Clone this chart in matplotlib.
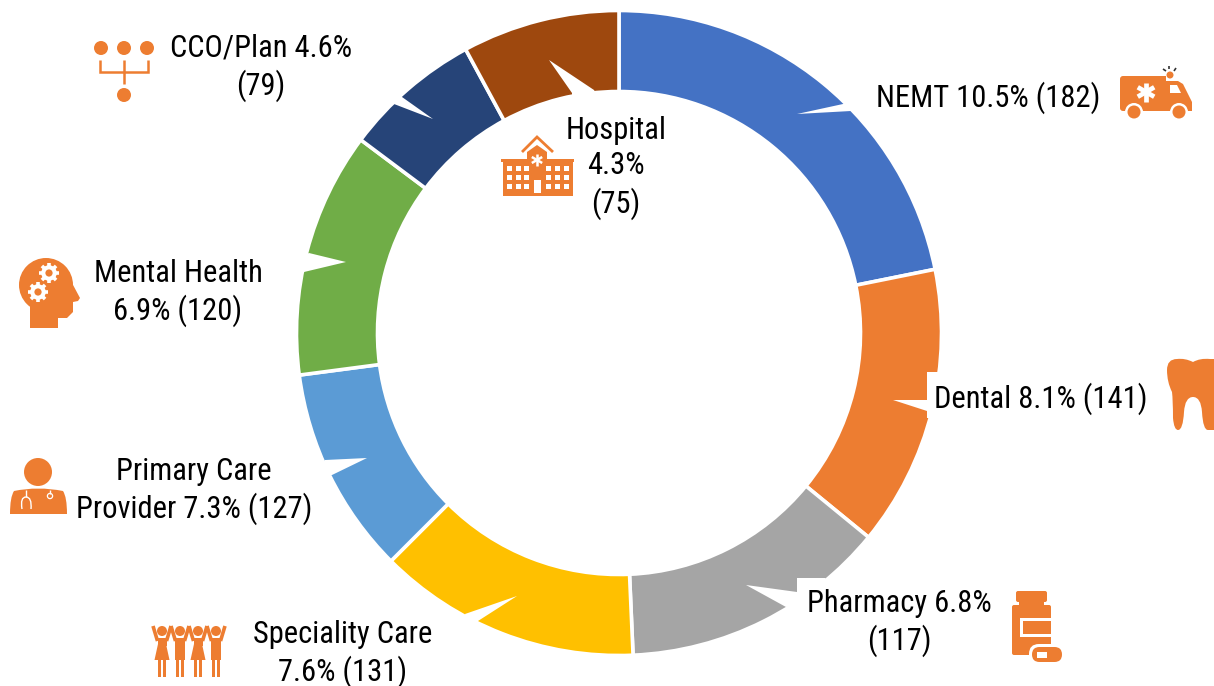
import numpy as np
import matplotlib
matplotlib.use("Agg")
import matplotlib.pyplot as plt
from matplotlib.patches import Circle, Polygon, Rectangle, FancyBboxPatch, PathPatch
from matplotlib.path import Path
from matplotlib import font_manager as fm

# share of the ring taken by each slice (degrees)
categories = ["NEMT", "Dental", "Pharmacy", "Speciality Care", "Primary Care Provider",
              "Mental Health", "CCO/Plan", "Hospital"]
slice_deg = [78.6, 50.7, 48.2, 47.5, 37.5, 44.3, 24.8, 28.4]
colors = ["#4472C4", "#ED7D31", "#A5A5A5", "#FFC000", "#5B9BD5", "#70AD47", "#264478", "#9E480E"]
labels = ["NEMT 10.5% (182)", "Dental 8.1% (141)", "Pharmacy 6.8%\n(117)", "Speciality Care\n7.6% (131)",
          "Primary Care\nProvider 7.3% (127)", "Mental Health\n6.9% (120)", "CCO/Plan 4.6%\n(79)",
          "Hospital\n4.3%\n(75)"]
label_x = [988, 1041, 899, 343, 194, 178, 261, 616]
label_y = [98, 399, 623, 654, 491, 293, 68, 168]

# white callout pointers cut into the ring
notches = [
    [(843, 104), (797, 114), (851, 111), (875, 95)],
    [(927, 372), (927, 400), (893, 400), (927, 411), (927, 418), (950, 418), (950, 372)],
    [(746, 585), (797, 592), (797, 578), (825, 578), (850, 600), (786, 607)],
    [(465, 614), (517, 596), (478, 621), (468, 632)],
    [(325, 460), (367, 458), (332, 475), (315, 475)],
    [(309, 253), (346, 262), (304, 272), (290, 262)],
    [(402, 97), (433, 119), (394, 104), (385, 90)],
    [(549, 60), (594, 90), (600, 100), (572, 100), (572, 93)],
]

ORANGE = "#ED7D31"
names = {f.name for f in fm.fontManager.ttflist}
FONT = "Roboto"
for cand in ["Liberation Sans Narrow", "Roboto Condensed", "Open Sans Condensed", "Roboto"]:
    if cand in names:
        FONT = cand
        break

fig = plt.figure(figsize=(12.14, 6.86), dpi=100)
ax = fig.add_axes([0, 0, 1, 1])

ax.pie(slice_deg, colors=colors, center=(619, 333), radius=322.5, startangle=-90, counterclock=True,
       wedgeprops=dict(width=81, edgecolor="white", linewidth=2.6))
ax.set_xlim(0, 1214)
ax.set_ylim(686, 0)
ax.set_aspect("equal")
ax.axis("off")

for n in notches:
    ax.add_patch(Polygon(n, closed=True, fc="white", ec="none", zorder=3))

for lab, x, y in zip(labels, label_x, label_y):
    ax.text(x, y, lab, ha="center", va="center", fontsize=22, family=FONT, color="black",
            linespacing=1.27, zorder=5)


def circ(x, y, r, c=ORANGE, z=6):
    ax.add_patch(Circle((x, y), r, fc=c, ec="none", zorder=z))


def rect(x0, y0, x1, y1, c=ORANGE, z=6):
    ax.add_patch(Rectangle((x0, y0), x1 - x0, y1 - y0, fc=c, ec="none", zorder=z))


def poly(pts, c=ORANGE, z=6):
    ax.add_patch(Polygon(pts, closed=True, fc=c, ec="none", zorder=z))


def line(xs, ys, lw=1.8, c=ORANGE, z=6, cap="butt"):
    ax.plot(xs, ys, color=c, lw=lw, zorder=z, solid_capstyle=cap, solid_joinstyle="miter")


def star(x, y, r, lw, c="white", z=7):
    for a in np.deg2rad([90, 30, 150]):
        line([x - r * np.cos(a), x + r * np.cos(a)], [y - r * np.sin(a), y + r * np.sin(a)], lw, c, z)


def gear(x, y, r):
    for a in np.deg2rad(np.arange(0, 360, 45)):
        line([x, x + r * np.cos(a)], [y, y + r * np.sin(a)], 2.6, "white", 7)
    circ(x, y, r * 0.78, "white", 7)
    circ(x, y, r * 0.36, ORANGE, 8)


# CCO
for x in (101, 124, 147):
    circ(x, 48, 7)
circ(124, 95, 7)
line([100, 100, 148, 148], [60, 72, 72, 60])
line([124, 124], [60, 84])

# head with gears
circ(46, 285, 27)
poly([(30, 300), (30, 328), (58, 328), (58, 318), (67, 318), (73, 312), (73, 302), (78, 301), (80, 298),
      (72, 283), (40, 280)])
gear(49, 273, 10)
gear(38, 292, 10)

# doctor
circ(38, 472, 14)
ax.add_patch(PathPatch(Path([(10, 514), (10, 497), (14, 491), (38, 486), (63, 491), (67, 497), (67, 514), (10, 514)],
                            [Path.MOVETO, Path.CURVE3, Path.CURVE3, Path.CURVE3, Path.CURVE3, Path.CURVE3,
                             Path.LINETO, Path.CLOSEPOLY]), fc=ORANGE, ec="none", zorder=6))
line([26, 26], [490, 497], 1.0, "white", 7)
ax.add_patch(PathPatch(Path([(22, 509), (20, 497), (26, 497), (32, 497), (31, 509)],
                            [Path.MOVETO, Path.CURVE3, Path.CURVE3, Path.CURVE3, Path.CURVE3]),
                       fc="none", ec="white", lw=1.0, zorder=7))
line([50, 50], [490, 494], 1.0, "white", 7)
ax.add_patch(Circle((50, 496), 2.6, fc="none", ec="white", lw=0.9, zorder=7))

# people
for i, x in enumerate((162, 180, 198, 216)):
    circ(x, 631, 5)
    line([x - 4.5, x - 9], [641, 626], 2.6)
    line([x + 4.5, x + 9], [641, 626], 2.6)
    if i % 2 == 0:
        rect(x - 4.5, 638, x + 4.5, 646)
        poly([(x - 4, 644), (x + 4, 644), (x + 7.5, 660), (x - 7.5, 660)])
    else:
        rect(x - 5, 638, x + 5, 660)
    rect(x - 4.3, 659, x - 0.8, 677)
    rect(x + 0.8, 659, x + 4.3, 677)

# ambulance
ax.add_patch(FancyBboxPatch((1120, 76), 30, 35, boxstyle="round,pad=0,rounding_size=3", fc=ORANGE, ec="none", zorder=6))
poly([(1130, 76), (1166, 76), (1166, 81), (1178, 81), (1183, 84), (1190, 98), (1192, 102), (1192, 111), (1130, 111)])
poly([(1170, 85), (1177, 85), (1181, 93), (1170, 93)], "white", 7)
star(1146, 92, 9.5, 3.4)
circ(1170, 75, 3.5)
for x in (1134, 1179):
    circ(x, 112, 9, "white", 7)
    circ(x, 112, 6.5, ORANGE, 8)
for x0, y0, x1, y1 in [(1163, 69, 1166, 71), (1169, 66, 1169, 69), (1176, 68, 1174, 71)]:
    line([x0, x1], [y0, y1], 1.2, "#333333", 7)

# tooth (runs off the right edge)
tooth_pts = [(1193, 362), (1185, 358), (1177, 359), (1167, 359), (1167, 370), (1167, 382), (1172, 392),
             (1173, 400), (1173, 418), (1174, 430), (1178, 430), (1183, 430), (1184, 412), (1185, 397),
             (1193, 397), (1201, 397), (1202, 412), (1203, 430), (1208, 430), (1214, 430), (1214, 359),
             (1210, 359), (1200, 358), (1193, 362), (1193, 362)]
tooth_codes = [Path.MOVETO] + [Path.CURVE3] * 18 + [Path.LINETO, Path.LINETO, Path.LINETO,
                                                    Path.CURVE3, Path.CURVE3, Path.CLOSEPOLY]
ax.add_patch(PathPatch(Path(tooth_pts, tooth_codes), fc=ORANGE, ec="none", zorder=6))

# pill bottle
ax.add_patch(FancyBboxPatch((1016, 591), 31, 11, boxstyle="round,pad=0,rounding_size=2", fc=ORANGE, ec="none", zorder=6))
rect(1019, 600, 1044, 606)
ax.add_patch(FancyBboxPatch((1012, 605), 39, 50, boxstyle="round,pad=0,rounding_size=2", fc=ORANGE, ec="none", zorder=6))
rect(1020, 618, 1051, 637, "white", 7)
rect(1023, 621, 1051, 634, ORANGE, 8)
ax.add_patch(FancyBboxPatch((1029, 644), 36, 21, boxstyle="round,pad=0,rounding_size=10", fc="white", ec="none", zorder=7))
ax.add_patch(FancyBboxPatch((1032, 647), 30, 15, boxstyle="round,pad=0,rounding_size=7.5", fc=ORANGE, ec="none", zorder=8))
rect(1037, 652, 1047, 658, "white", 9)

# hospital
rect(503, 161, 573, 196, ORANGE, 6)
rect(501, 159, 574, 162, ORANGE, 6)
poly([(527, 159), (527, 152), (537, 145), (547, 152), (547, 159)])
line([522, 537, 553], [152, 137, 152], 2.0)
star(537, 160, 6, 1.8)
for y0 in (166, 175, 184):
    for x0 in (507, 516, 524, 546, 555, 564):
        rect(x0, y0, x0 + 5, y0 + 5, "white", 7)
rect(534, 180, 541, 193, "white", 7)

fig.savefig("out.png", dpi=100)
